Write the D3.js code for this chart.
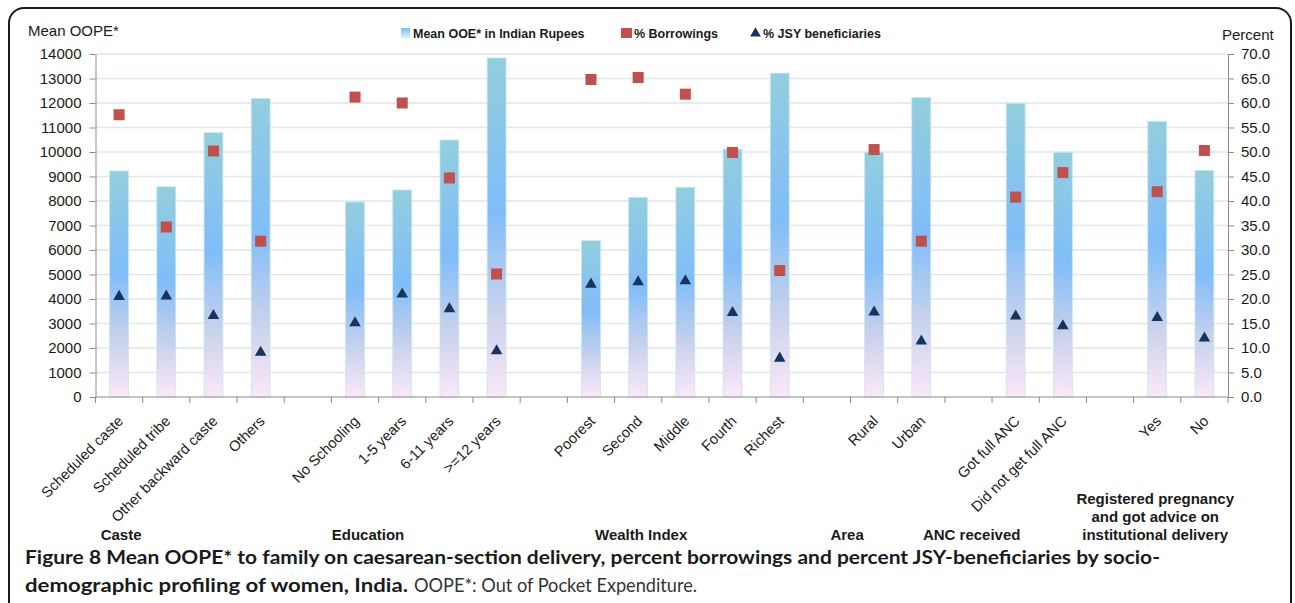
<!DOCTYPE html>
<meta charset="utf-8">
<style>
  body { margin: 0; background: #fff; }
  text { font-family: "Liberation Sans", Arial, sans-serif; fill: #1a1a1a; }
  .grid line { stroke: #dfe6f0; stroke-width: 1.6; }
  .axis path, .axis line { stroke: #8a8a8a; }
  .cat-label { font-size: 14.7px; }
  .group-label { font-size: 15px; font-weight: bold; }
  .legend text { font-size: 12.5px; font-weight: bold; }
  .caption { font-family: Lato, "Open Sans", sans-serif; font-size: 19px; }
</style>
<svg width="1295" height="603"></svg>
<script src="https://d3js.org/d3.v7.min.js"></script>
<script>
// ---- data ----
var groups = ["Caste", "Education", "Wealth Index", "Area", "ANC received",
              "Registered pregnancy|and got advice on|institutional delivery"];

var categories = ["Scheduled caste", "Scheduled tribe", "Other backward caste", "Others",
                  "No Schooling", "1-5 years", "6-11 years", ">=12 years",
                  "Poorest", "Second", "Middle", "Fourth", "Richest",
                  "Rural", "Urban",
                  "Got full ANC", "Did not get full ANC",
                  "Yes", "No"];
var categoryGroup = [0, 0, 0, 0, 1, 1, 1, 1, 2, 2, 2, 2, 2, 3, 3, 4, 4, 5, 5];

var meanOOPE   = [9230, 8580, 10790, 12180, 7960, 8450, 10490, 13840,
                  6380, 8150, 8560, 10120, 13220, 9990, 12220, 11990, 9990, 11250, 9250];
var borrowings = [57.6, 34.7, 50.2, 31.8, 61.2, 60.0, 44.7, 25.1,
                  64.8, 65.2, 61.8, 49.9, 25.8, 50.5, 31.8, 40.8, 45.8, 41.9, 50.3];
var jsy        = [20.5, 20.6, 16.6, 9.1, 15.1, 21.0, 18.0, 9.4,
                  23.0, 23.5, 23.7, 17.2, 7.9, 17.3, 11.4, 16.5, 14.5, 16.2, 12.0];

var leftTicks  = [0, 1000, 2000, 3000, 4000, 5000, 6000, 7000, 8000, 9000, 10000, 11000, 12000, 13000, 14000];
var rightTicks = [0, 5, 10, 15, 20, 25, 30, 35, 40, 45, 50, 55, 60, 65, 70];

// ---- layout ----
var plotLeft = 95.5, plotRight = 1228, plotTop = 54, plotBottom = 397;
// where each group label sits: category index + pixel nudge
var groupLabelAt = [[0, 2], [4, 13], [9, 3], [13, -27], [15, -44], [17, -2]];

var svg = d3.select("svg");

svg.append("rect")
    .attr("width", "100%")
    .attr("height", "100%")
    .attr("fill", "#fff");

// frame
svg.append("rect")
    .attr("x", 9).attr("y", 8)
    .attr("width", 1282).attr("height", 640)
    .attr("rx", 15)
    .attr("fill", "none")
    .attr("stroke", "#1a1a1a")
    .attr("stroke-width", 2);

// slots: a blank slot between groups
var slots = [];
categories.forEach(function(c, i) {
  if (i > 0 && categoryGroup[i] !== categoryGroup[i - 1]) slots.push("gap" + i);
  slots.push(c);
});

var x = d3.scaleBand().domain(slots).range([plotLeft, plotRight]).paddingInner(0.6).paddingOuter(0.3);
var yL = d3.scaleLinear().domain([0, 14000]).range([plotBottom, plotTop]);
var yR = d3.scaleLinear().domain([0, 70]).range([plotBottom, plotTop]);
var cx = function(c) { return x(c) + x.bandwidth() / 2; };

// gradient for the bars
var defs = svg.append("defs");
var grad = defs.append("linearGradient").attr("id", "barGrad")
    .attr("x1", 0).attr("y1", 0).attr("x2", 0).attr("y2", 1);
grad.append("stop").attr("offset", "0").attr("stop-color", "#93cedd");
grad.append("stop").attr("offset", "0.45").attr("stop-color", "#80bdf9");
grad.append("stop").attr("offset", "0.75").attr("stop-color", "#c9d2ec");
grad.append("stop").attr("offset", "1").attr("stop-color", "#fbe8f8");

var lgGrad = defs.append("linearGradient").attr("id", "legGrad")
    .attr("x1", 0).attr("y1", 0).attr("x2", 0).attr("y2", 1);
lgGrad.append("stop").attr("offset", "0").attr("stop-color", "#7fbcf5");
lgGrad.append("stop").attr("offset", "1").attr("stop-color", "#dfeefc");

// gridlines
svg.append("g").attr("class", "grid")
    .selectAll("line")
    .data(leftTicks.slice(1))
    .enter().append("line")
    .attr("x1", plotLeft).attr("x2", plotRight)
    .attr("y1", function(d) { return yL(d); })
    .attr("y2", function(d) { return yL(d); });

// bars
svg.append("g")
    .selectAll("rect")
    .data(categories)
    .enter().append("rect")
    .attr("x", function(d) { return x(d); })
    .attr("width", x.bandwidth())
    .attr("y", function(d, i) { return yL(meanOOPE[i]); })
    .attr("height", function(d, i) { return plotBottom - yL(meanOOPE[i]); })
    .attr("fill", "url(#barGrad)")
    .attr("stroke", "#c8e6ef")
    .attr("stroke-width", 0.8);

// left axis
var axL = svg.append("g").attr("class", "axis")
    .attr("transform", "translate(" + plotLeft + ",0)")
    .call(d3.axisLeft(yL).tickValues(leftTicks).tickSize(6).tickSizeOuter(0).tickFormat(d3.format("d")));
axL.selectAll("text").attr("x", -14).style("font-size", "15px");

// right axis
var axR = svg.append("g").attr("class", "axis")
    .attr("transform", "translate(" + plotRight + ",0)")
    .call(d3.axisRight(yR).tickValues(rightTicks).tickSize(6).tickSizeOuter(0).tickFormat(d3.format(".1f")));
axR.selectAll("text").attr("x", 13).style("font-size", "15px");

// bottom axis line with ticks at slot edges
var edges = slots.map(function(s) { return x(s) - x.step() * 0.3; }).concat([plotRight]);
var axB = svg.append("g").attr("class", "axis");
axB.append("line").attr("x1", plotLeft).attr("x2", plotRight).attr("y1", plotBottom).attr("y2", plotBottom);
axB.selectAll(".tk").data(edges).enter().append("line")
    .attr("x1", function(d) { return d; }).attr("x2", function(d) { return d; })
    .attr("y1", plotBottom).attr("y2", plotBottom + 6);
svg.selectAll(".axis .domain").attr("stroke", "#8a8a8a");
svg.selectAll(".axis text").attr("fill", "#1a1a1a").style("font-family", "'Liberation Sans', Arial, sans-serif");

// borrowings squares
svg.append("g")
    .selectAll("rect")
    .data(categories)
    .enter().append("rect")
    .attr("x", function(d) { return cx(d) - 5.5; })
    .attr("y", function(d, i) { return yR(borrowings[i]) - 5.5; })
    .attr("width", 11).attr("height", 11)
    .attr("fill", "#c0504d");

// JSY triangles
var tri = d3.symbol().type(d3.symbolTriangle).size(58);
svg.append("g")
    .selectAll("path")
    .data(categories)
    .enter().append("path")
    .attr("d", tri)
    .attr("transform", function(d, i) { return "translate(" + cx(d) + "," + yR(jsy[i]) + ")"; })
    .attr("fill", "#17335f");

// category labels
svg.append("g")
    .selectAll("text")
    .data(categories)
    .enter().append("text")
    .attr("class", "cat-label")
    .attr("text-anchor", "end")
    .attr("transform", function(d) { return "translate(" + (cx(d) + 5) + "," + (plotBottom + 25) + ") rotate(-45)"; })
    .text(function(d) { return d; });

// group labels
groupLabelAt.forEach(function(g, gi) {
  var lines = groups[gi].split("|");
  var gx = cx(categories[g[0]]) + g[1];
  var t = svg.append("text")
      .attr("class", "group-label")
      .attr("text-anchor", "middle")
      .attr("x", gx)
      .attr("y", 540 - (lines.length - 1) * 18);
  lines.forEach(function(l, li) {
    t.append("tspan")
        .attr("x", gx)
        .attr("dy", li === 0 ? 0 : 18)
        .text(l);
  });
});

// axis titles
svg.append("text").attr("x", 28).attr("y", 36).style("font-size", "15px").text("Mean OOPE*");
svg.append("text").attr("x", 1222).attr("y", 40).style("font-size", "15px").text("Percent");

// legend
var legend = svg.append("g").attr("class", "legend");
legend.append("rect").attr("x", 401).attr("y", 28).attr("width", 9).attr("height", 10).attr("fill", "url(#legGrad)");
legend.append("text").attr("x", 413).attr("y", 37.5).text("Mean OOE* in Indian Rupees");
legend.append("rect").attr("x", 621).attr("y", 28).attr("width", 11).attr("height", 10).attr("fill", "#c0504d");
legend.append("text").attr("x", 634).attr("y", 37.5).text("% Borrowings");
legend.append("path").attr("d", d3.symbol().type(d3.symbolTriangle).size(50))
    .attr("transform", "translate(755.5,33.5)").attr("fill", "#17335f");
legend.append("text").attr("x", 763).attr("y", 37.5).text("% JSY beneficiaries");

// caption
svg.append("text").attr("class", "caption")
    .attr("x", 25).attr("y", 564)
    .attr("textLength", 1135).attr("lengthAdjust", "spacingAndGlyphs")
    .style("font-weight", "bold")
    .text("Figure 8 Mean OOPE* to family on caesarean-section delivery, percent borrowings and percent JSY-beneficiaries by socio-");
svg.append("text").attr("class", "caption")
    .attr("x", 25).attr("y", 592)
    .attr("textLength", 383).attr("lengthAdjust", "spacingAndGlyphs")
    .style("font-weight", "bold")
    .text("demographic profiling of women, India.");
svg.append("text").attr("class", "caption")
    .attr("x", 414).attr("y", 592)
    .attr("textLength", 283).attr("lengthAdjust", "spacingAndGlyphs")
    .style("fill", "#333")
    .text("OOPE*: Out of Pocket Expenditure.");
</script>
